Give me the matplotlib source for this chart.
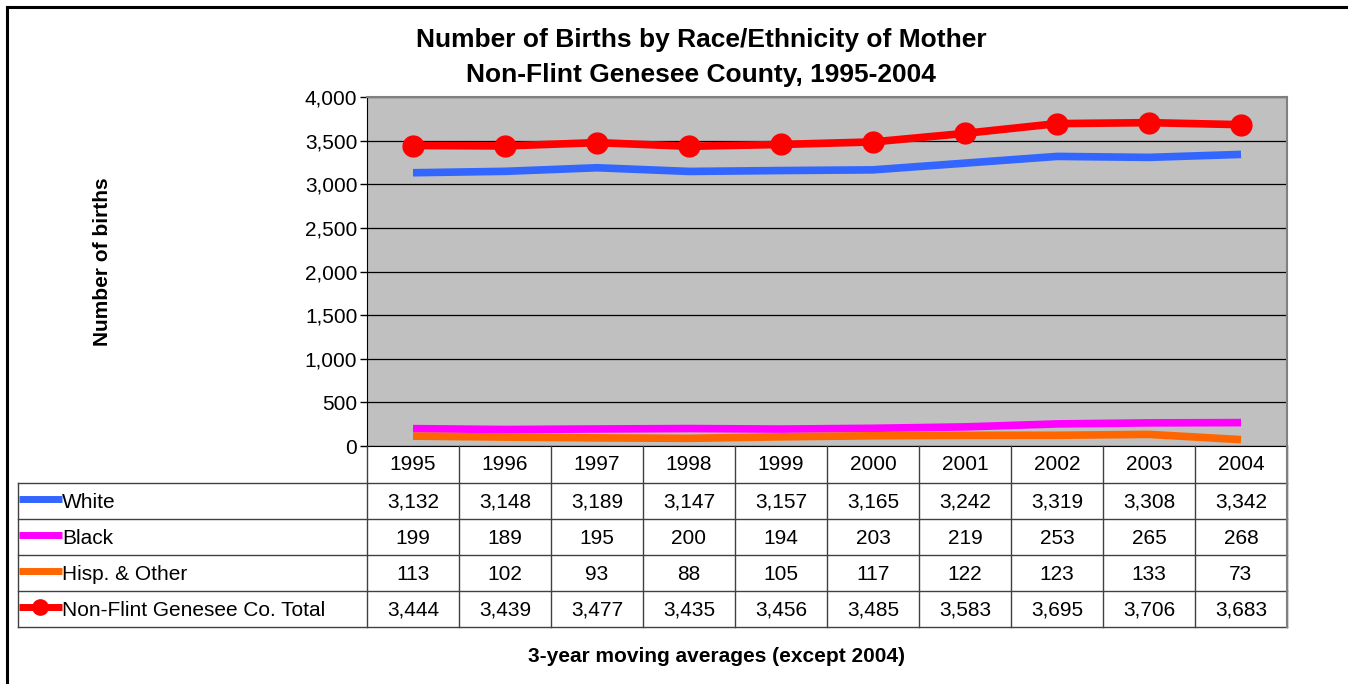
import matplotlib
matplotlib.use("Agg")
import matplotlib.pyplot as plt
from matplotlib.lines import Line2D
from matplotlib.ticker import FuncFormatter

plt.rcParams['font.family'] = ['Liberation Sans', 'DejaVu Sans']

years = ['1995', '1996', '1997', '1998', '1999', '2000', '2001', '2002', '2003', '2004']
white = [3132, 3148, 3189, 3147, 3157, 3165, 3242, 3319, 3308, 3342]
black = [199, 189, 195, 200, 194, 203, 219, 253, 265, 268]
hisp = [113, 102, 93, 88, 105, 117, 122, 123, 133, 73]
total = [3444, 3439, 3477, 3435, 3456, 3485, 3583, 3695, 3706, 3683]

series = [
    ('White', white, '#3366FF', False),
    ('Black', black, '#FF00FF', False),
    ('Hisp. & Other', hisp, '#FF6600', False),
    ('Non-Flint Genesee Co. Total', total, '#FF0000', True),
]

W, H = 1348, 684
fig = plt.figure(figsize=(W / 100, H / 100), dpi=100)

def fx(px):
    return px / W

def fy(py):
    return 1 - py / H

fs = 15

# plot area in pixels
left, right, top, bottom = 367, 1287, 97, 446
ax = fig.add_axes([fx(left), fy(bottom), fx(right - left), (bottom - top) / H])
ax.set_facecolor('#C0C0C0')
x = list(range(len(years)))
for name, vals, col, marker in series:
    ax.plot(x, vals, color=col, lw=5.5, solid_capstyle='butt',
            marker='o' if marker else None, markersize=15, zorder=3)
ax.set_xlim(-0.5, len(years) - 0.5)
ax.set_ylim(0, 4000)
ax.set_yticks(range(0, 4001, 500))
ax.yaxis.set_major_formatter(FuncFormatter(lambda v, p: f'{int(v):,}'))
ax.set_xticks([])
ax.grid(axis='y', color='black', lw=0.9)
ax.set_axisbelow(True)
ax.tick_params(axis='y', labelsize=fs, length=5, width=1, direction='out', pad=2)
for s in ['top', 'right']:
    ax.spines[s].set_color('#808080')
    ax.spines[s].set_linewidth(1.5)
ax.spines['left'].set_color('black')
ax.spines['bottom'].set_color('black')

# data table below the plot
colw = (right - left) / len(years)
row_h = 36
hdr_top, hdr_bot = bottom, 483
lab_left = 18
lc = '#404040'
def hline(y, x0, x1, lw=1.0, c=lc):
    fig.add_artist(Line2D([fx(x0), fx(x1)], [fy(y), fy(y)], color=c, lw=lw))
def vline(xp, y0, y1, lw=1.0, c=lc):
    fig.add_artist(Line2D([fx(xp), fx(xp)], [fy(y0), fy(y1)], color=c, lw=lw))

for i, yr in enumerate(years):
    cx = left + colw * (i + 0.5)
    fig.text(fx(cx), fy((hdr_top + hdr_bot) / 2), yr, ha='center', va='center', fontsize=fs)

rows_top = hdr_bot
for r, (name, vals, col, marker) in enumerate(series):
    y0 = rows_top + r * row_h
    cy = y0 + row_h / 2
    # legend key
    fig.add_artist(Line2D([fx(19), fx(62)], [fy(cy - 2), fy(cy - 2)], color=col, lw=5,
                          solid_capstyle='butt'))
    if marker:
        fig.add_artist(Line2D([fx(40)], [fy(cy - 2)], color=col, marker='o', markersize=11))
    fig.text(fx(62), fy(cy + 1), name, ha='left', va='center', fontsize=fs)
    for i, v in enumerate(vals):
        cx = left + colw * (i + 0.5)
        fig.text(fx(cx), fy(cy + 1), f'{v:,}', ha='center', va='center', fontsize=fs)

rows_bot = rows_top + len(series) * row_h
for r in range(len(series) + 1):
    hline(rows_top + r * row_h, lab_left, right)
for i in range(len(years) + 1):
    vline(left + colw * i, hdr_top, rows_bot)
vline(lab_left, rows_top, rows_bot)
vline(right, hdr_top, rows_bot, c='#808080', lw=1.5)

# titles
fig.text(fx(701), fy(40), 'Number of Births by Race/Ethnicity of Mother',
         ha='center', va='center', fontsize=19, fontweight='bold')
fig.text(fx(701), fy(75), 'Non-Flint Genesee County, 1995-2004',
         ha='center', va='center', fontsize=19, fontweight='bold')
fig.text(fx(102), fy(262), 'Number of births', rotation=90,
         ha='center', va='center', fontsize=fs, fontweight='bold')
fig.text(fx(717), fy(657), '3-year moving averages (except 2004)',
         ha='center', va='center', fontsize=fs, fontweight='bold')

# outer frame
hline(7, 7, W, lw=2.2, c='black')
vline(7, 7, H, lw=2.2, c='black')

fig.savefig('out.png', dpi=100)
